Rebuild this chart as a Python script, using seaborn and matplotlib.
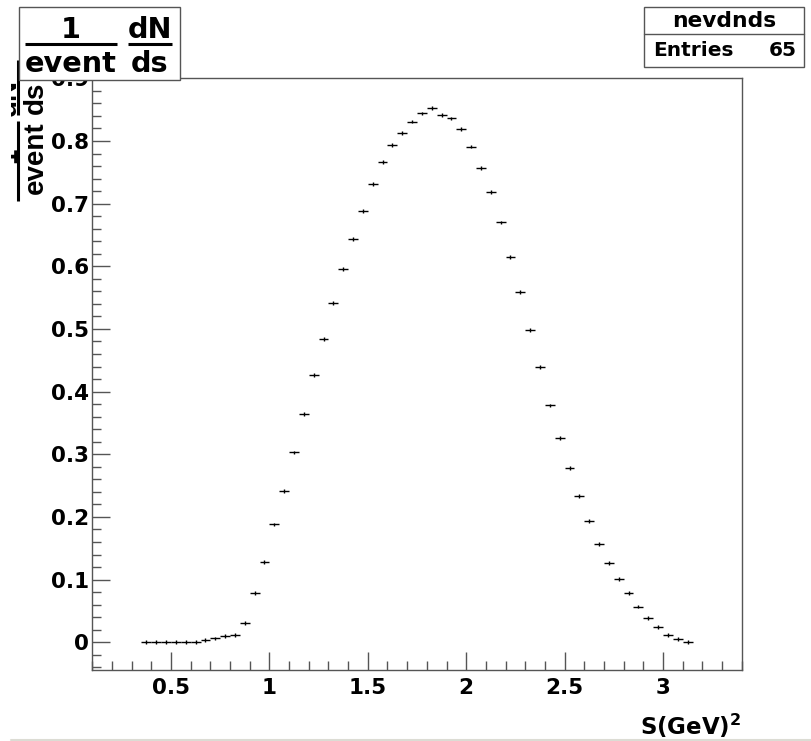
import matplotlib
matplotlib.use('Agg')
import matplotlib.pyplot as plt
import seaborn as sns
from matplotlib.ticker import MultipleLocator, FuncFormatter
from matplotlib.patches import Rectangle
from matplotlib.lines import Line2D
from matplotlib.transforms import Bbox, TransformedBbox

# bin centres (width 0.05) and normalised dN/ds
s_centres = [0.375, 0.425, 0.475, 0.525, 0.575, 0.625, 0.675, 0.725, 0.775, 0.825,
             0.875, 0.925, 0.975, 1.025, 1.075, 1.125, 1.175, 1.225, 1.275, 1.325,
             1.375, 1.425, 1.475, 1.525, 1.575, 1.625, 1.675, 1.725, 1.775, 1.825,
             1.875, 1.925, 1.975, 2.025, 2.075, 2.125, 2.175, 2.225, 2.275, 2.325,
             2.375, 2.425, 2.475, 2.525, 2.575, 2.625, 2.675, 2.725, 2.775, 2.825,
             2.875, 2.925, 2.975, 3.025, 3.075, 3.125]
dnds = [0.0, 0.0, 0.0, 0.0, 0.0, 0.0005, 0.003, 0.006, 0.010, 0.012,
        0.031, 0.078, 0.128, 0.188, 0.241, 0.303, 0.364, 0.426, 0.484, 0.542,
        0.596, 0.644, 0.688, 0.731, 0.767, 0.793, 0.813, 0.831, 0.844, 0.853,
        0.842, 0.836, 0.819, 0.791, 0.757, 0.719, 0.670, 0.615, 0.559, 0.498,
        0.439, 0.378, 0.326, 0.278, 0.233, 0.193, 0.157, 0.127, 0.101, 0.078,
        0.057, 0.039, 0.024, 0.012, 0.005, 0.0005]
half_bin = 0.025
stat_err = 0.003

hist_name = 'nevdnds'
n_entries = 65

sns.set_style('ticks')
plt.rcParams['font.family'] = ['DejaVu Sans']
plt.rcParams['font.weight'] = 'bold'
plt.rcParams['text.color'] = 'black'
plt.rcParams['mathtext.fontset'] = 'custom'
plt.rcParams['mathtext.rm'] = 'DejaVu Sans:bold'
plt.rcParams['mathtext.it'] = 'DejaVu Sans:bold'
plt.rcParams['mathtext.bf'] = 'DejaVu Sans:bold'

W, H = 812, 741
fig = plt.figure(figsize=(W / 100, H / 100), dpi=100)
fig.patch.set_facecolor('white')

def fx(px):
    return px / W

def fy(py):
    return 1 - py / H

ax = fig.add_axes([fx(91.7), fy(670), fx(741.7) - fx(91.7), fy(78) - fy(670)])

ax.errorbar(s_centres, dnds, xerr=half_bin, yerr=stat_err, fmt='none',
            ecolor='black', elinewidth=1, capsize=0)
sns.scatterplot(x=s_centres, y=dnds, ax=ax, color='black', marker='.', s=4,
                linewidth=0, legend=False)

ax.set_xlim(0.097, 3.40)
ax.set_ylim(-0.0443, 0.9005)

frame_col = '#555555'
for sp in ax.spines.values():
    sp.set_color(frame_col)
    sp.set_linewidth(1)

ax.xaxis.set_major_locator(MultipleLocator(0.5))
ax.xaxis.set_minor_locator(MultipleLocator(0.1))
ax.yaxis.set_major_locator(MultipleLocator(0.1))
ax.yaxis.set_minor_locator(MultipleLocator(0.02))
fmt = FuncFormatter(lambda v, p: '%g' % round(v, 3))
ax.xaxis.set_major_formatter(fmt)
ax.yaxis.set_major_formatter(fmt)

ax.tick_params(which='both', direction='in', top=False, right=False, color=frame_col,
               width=1, labelcolor='black')
ax.tick_params(which='major', length=13, labelsize=15.5)
ax.tick_params(which='minor', length=6.5)
ax.tick_params(axis='x', which='major', pad=6)
ax.tick_params(axis='y', which='major', pad=2)
for lab in ax.get_xticklabels() + ax.get_yticklabels():
    lab.set_fontweight('bold')

# x title at the right end
fig.text(fx(741.7), fy(735), r'S(GeV)$^{2}$', ha='right', va='baseline',
         fontsize=16.5, fontweight='bold', color='black')

# y title at the top end, clipped by the canvas edge and hidden by the title box
clip = TransformedBbox(Bbox([[fx(11), 0], [1, 1]]), fig.transFigure)
ylab_parts = [('1', 16, 155), ('event', 43.3, 157.5), ('dN', 16, 97.5), ('ds', 43.3, 97.5)]
for txt, bx, cy in ylab_parts:
    t = fig.text(fx(bx), fy(cy), txt, rotation=90, rotation_mode='anchor',
                 ha='center', va='baseline', fontsize=20, fontweight='bold',
                 family=['Liberation Sans', 'DejaVu Sans'], color='black', zorder=1)
    t.set_clip_box(clip)
    t.set_clip_on(True)
for y0, y1 in [(121, 201), (60, 115)]:
    fig.add_artist(Line2D([fx(18), fx(18)], [fy(y0), fy(y1)], color='black',
                          linewidth=2.2, solid_capstyle='butt', zorder=1))

# title box
fig.add_artist(Rectangle((fx(19), fy(80)), fx(180) - fx(19), fy(7) - fy(80),
                         transform=fig.transFigure, facecolor='white',
                         edgecolor=frame_col, linewidth=1, zorder=5))
title_parts = [('1', 71, 38), ('event', 71, 72), ('dN', 150, 38), ('ds', 150, 72)]
for txt, cx, base in title_parts:
    fig.text(fx(cx), fy(base), txt, ha='center', va='baseline', fontsize=20.7,
             fontweight='bold', color='black', zorder=6)
for x0, x1 in [(25, 117), (128, 172)]:
    fig.add_artist(Line2D([fx(x0), fx(x1)], [fy(43.5), fy(43.5)], color='black',
                          linewidth=2.2, solid_capstyle='butt', zorder=6))

# stats box
fig.add_artist(Rectangle((fx(644), fy(67)), fx(804) - fx(644), fy(7) - fy(67),
                         transform=fig.transFigure, facecolor='white',
                         edgecolor=frame_col, linewidth=1, zorder=5))
fig.add_artist(Line2D([fx(644), fx(804)], [fy(34), fy(34)], color=frame_col,
                      linewidth=1, zorder=6))
fig.text((fx(644) + fx(804)) / 2, fy(21), hist_name, ha='center', va='center',
         fontsize=15.7, fontweight='bold', color='black', zorder=7)
fig.text(fx(653), fy(51), 'Entries', ha='left', va='center',
         fontsize=14.5, fontweight='bold', color='black', zorder=7)
fig.text(fx(797), fy(51), str(n_entries), ha='right', va='center',
         fontsize=14.5, fontweight='bold', color='black', zorder=7)

# faint canvas edge at the bottom
fig.add_artist(Line2D([fx(11), 1], [fy(740), fy(740)], color='#dcdcd4', linewidth=1.5))

fig.savefig('out.png', dpi=100, facecolor='white')
